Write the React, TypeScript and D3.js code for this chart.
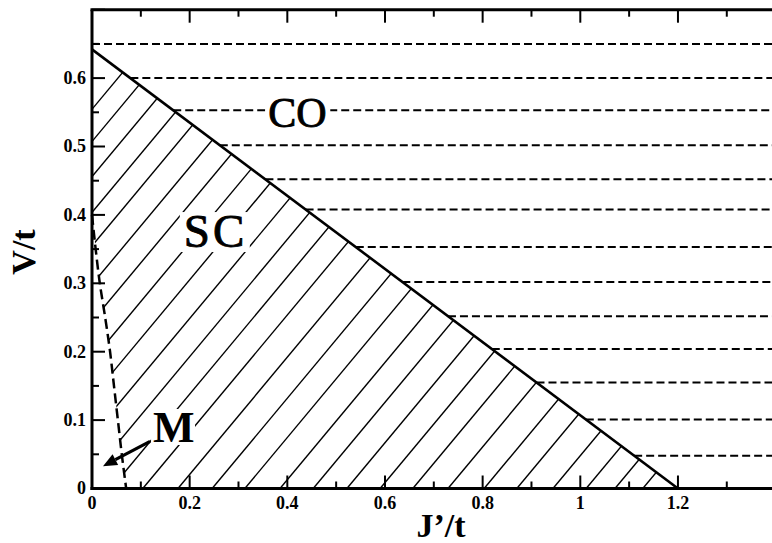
import React from "react";
import * as d3 from "d3";

// ---- data ----
const xTicksMajor = [0, 0.2, 0.4, 0.6, 0.8, 1, 1.2, 1.4];
const xTicksMinor = [0.1, 0.3, 0.5, 0.7, 0.9, 1.1, 1.3];
const yTicksMajor = [0, 0.1, 0.2, 0.3, 0.4, 0.5, 0.6, 0.7];
const yTicksMinor = [0.05, 0.15, 0.25, 0.35, 0.45, 0.55, 0.65];
const xTickLabels = ["0", "0.2", "0.4", "0.6", "0.8", "1", "1.2"];
const yTickLabels = ["0", "0.1", "0.2", "0.3", "0.4", "0.5", "0.6"];

// SC / CO phase boundary (J'/t, V/t)
const boundaryJ = [0, 1.2];
const boundaryV = [0.642, 0];

// M / SC boundary (dashed)
const mCurveJ = [0, 0.0075, 0.016, 0.027, 0.037, 0.045, 0.053, 0.061, 0.07];
const mCurveV = [0.4, 0.35, 0.3, 0.25, 0.2, 0.15, 0.1, 0.05, 0];

// CO dashed levels
const coLevels = [0.65, 0.6, 0.553, 0.502, 0.452, 0.408, 0.353, 0.302, 0.252, 0.204, 0.155, 0.101, 0.048];

// hatch lines: J-intercept at V = 0, common slope dV/dJ
const hatchIntercepts = [
  -0.647, -0.592, -0.532, -0.471, -0.414, -0.348, -0.285, -0.219, -0.156, -0.09, -0.025, 0.039,
  0.104, 0.176, 0.246, 0.313, 0.385, 0.453, 0.522, 0.59, 0.657, 0.729, 0.803, 0.87, 0.944, 1.012,
  1.071, 1.128,
];
const hatchSlope = 0.857;

// labels
const labelCO = { text: "CO", j: 0.361, v: 0.528 };
const labelSC = { text: "SC", j: 0.188, v: 0.353 };
const labelM = { text: "M", j: 0.125, v: 0.068 };
const arrowM = { j0: 0.119, v0: 0.069, j1: 0.0225, v1: 0.0326 };

const X_DOMAIN = [0, 1.4];
const Y_DOMAIN = [0, 0.7];

export default function App() {
  const W = 772;
  const H = 543;
  const left = 92;
  const bottom = 488.5;
  const x = d3.scaleLinear().domain(X_DOMAIN).range([left, left + 1.4 * 488.3]);
  const y = d3.scaleLinear().domain(Y_DOMAIN).range([bottom, bottom - 0.7 * 684]);
  const top = y(0.7);
  const right = x(1.4);
  const font = "'Liberation Serif', 'Times New Roman', serif";

  const bLine = d3.line<number>().x((d, i) => x(boundaryJ[i])).y((d, i) => y(boundaryV[i]));
  const mLine = d3.line<number>().x((d, i) => x(mCurveJ[i])).y((d, i) => y(mCurveV[i])).curve(d3.curveMonotoneY);

  // hatch clip polygon
  const clipPts: [number, number][] = [];
  clipPts.push([x(0), y(boundaryV[0])]);
  mCurveJ.forEach((j, i) => clipPts.push([x(j), y(mCurveV[i])]));
  clipPts.push([x(boundaryJ[1]), y(boundaryV[1])]);
  const clipPath = "M" + clipPts.map((p) => p.join(",")).join("L") + "Z";

  const bAt = (v: number) => {
    if (v >= boundaryV[0]) return 0;
    const t = (v - boundaryV[0]) / (boundaryV[1] - boundaryV[0]);
    return boundaryJ[0] + t * (boundaryJ[1] - boundaryJ[0]);
  };

  const ang = Math.atan2(y(arrowM.v1) - y(arrowM.v0), x(arrowM.j1) - x(arrowM.j0));
  const tipX = x(arrowM.j1);
  const tipY = y(arrowM.v1);
  const hl = 14;
  const hw = 6;
  const baseX = tipX - hl * Math.cos(ang);
  const baseY = tipY - hl * Math.sin(ang);
  const head = [
    [tipX, tipY],
    [baseX + hw * Math.sin(ang), baseY - hw * Math.cos(ang)],
    [baseX - hw * Math.sin(ang), baseY + hw * Math.cos(ang)],
  ];

  return (
    <svg
      width={W}
      height={H}
      style={{ position: "absolute", left: 0, top: 0, background: "#fff" }}
      fontFamily={font}
    >
      <defs>
        <clipPath id="hatchClip">
          <path d={clipPath} />
        </clipPath>
      </defs>
      <rect x={0} y={0} width={W} height={H} fill="#fff" />

      {/* hatch */}
      <g clipPath="url(#hatchClip)" stroke="#000" strokeWidth={1.4}>
        {hatchIntercepts.map((j0, i) => {
          const j1 = j0 + 0.7 / hatchSlope;
          return <line key={i} x1={x(j0)} y1={y(0)} x2={x(j1)} y2={y(0.7)} />;
        })}
      </g>

      {/* CO dashed lines */}
      <g stroke="#000" strokeWidth={2} strokeDasharray="8,4" fill="none">
        {coLevels.map((v, i) => (
          <line key={i} x1={x(bAt(v))} y1={y(v)} x2={right} y2={y(v)} />
        ))}
      </g>

      {/* M dashed curve */}
      <path d={mLine(mCurveJ) || ""} fill="none" stroke="#000" strokeWidth={2.5} strokeDasharray="10,5" />

      {/* boundary */}
      <path d={bLine(boundaryJ) || ""} fill="none" stroke="#000" strokeWidth={2.6} />

      {/* label backgrounds */}
      <rect x={x(labelCO.j) - 3} y={y(labelCO.v) - 31} width={65} height={35} fill="#fff" />
      <rect x={x(labelSC.j) - 4} y={y(labelSC.v) - 35} width={70} height={40} fill="#fff" />
      <rect x={x(labelM.j) - 2} y={y(labelM.v) - 33} width={44} height={36} fill="#fff" />

      <text x={x(labelCO.j)} y={y(labelCO.v)} fontSize={42} fill="#000" stroke="#000" strokeWidth={0.9}>
        {labelCO.text}
      </text>
      <text x={x(labelSC.j)} y={y(labelSC.v)} fontSize={47} fill="#000" stroke="#000" strokeWidth={0.9} letterSpacing={3}>
        {labelSC.text}
      </text>
      <text x={x(labelM.j)} y={y(labelM.v)} fontSize={44} fontWeight="bold" fill="#000">
        {labelM.text}
      </text>

      {/* arrow */}
      <line x1={x(arrowM.j0)} y1={y(arrowM.v0)} x2={baseX} y2={baseY} stroke="#000" strokeWidth={3.2} />
      <polygon points={head.map((p) => p.join(",")).join(" ")} fill="#000" />

      {/* axes frame */}
      <g stroke="#000" strokeWidth={3} fill="none">
        <line x1={left} y1={top} x2={left} y2={bottom + 1.5} />
        <line x1={left - 1.5} y1={bottom} x2={right} y2={bottom} />
        <line x1={left - 1.5} y1={top} x2={right} y2={top} />
      </g>

      {/* ticks */}
      <g stroke="#000" strokeWidth={2}>
        {xTicksMajor.map((t, i) => (
          <g key={"xM" + i}>
            <line x1={x(t)} y1={bottom} x2={x(t)} y2={bottom - 13} />
            <line x1={x(t)} y1={top} x2={x(t)} y2={top + 13} />
          </g>
        ))}
        {xTicksMinor.map((t, i) => (
          <g key={"xm" + i}>
            <line x1={x(t)} y1={bottom} x2={x(t)} y2={bottom - 7} />
            <line x1={x(t)} y1={top} x2={x(t)} y2={top + 7} />
          </g>
        ))}
        {yTicksMajor.map((t, i) => (
          <line key={"yM" + i} x1={left} y1={y(t)} x2={left + 13} y2={y(t)} />
        ))}
        {yTicksMinor.map((t, i) => (
          <line key={"ym" + i} x1={left} y1={y(t)} x2={left + 7} y2={y(t)} />
        ))}
      </g>

      {/* tick labels */}
      <g fontSize={18} fontWeight="bold" fill="#000">
        {xTickLabels.map((lab, i) => (
          <text key={"xl" + i} x={x(xTicksMajor[i])} y={bottom + 20} textAnchor="middle">
            {lab}
          </text>
        ))}
        {yTickLabels.map((lab, i) => (
          <text key={"yl" + i} x={86} y={y(yTicksMajor[i])} dy="0.33em" textAnchor="end">
            {lab}
          </text>
        ))}
      </g>

      {/* axis titles */}
      <text x={441} y={537} fontSize={34} fontWeight="bold" textAnchor="middle" fill="#000">
        J’/t
      </text>
      <text
        transform={`translate(35,252) rotate(-90)`}
        fontSize={34}
        fontWeight="bold"
        textAnchor="middle"
        fill="#000"
      >
        V/t
      </text>
    </svg>
  );
}
